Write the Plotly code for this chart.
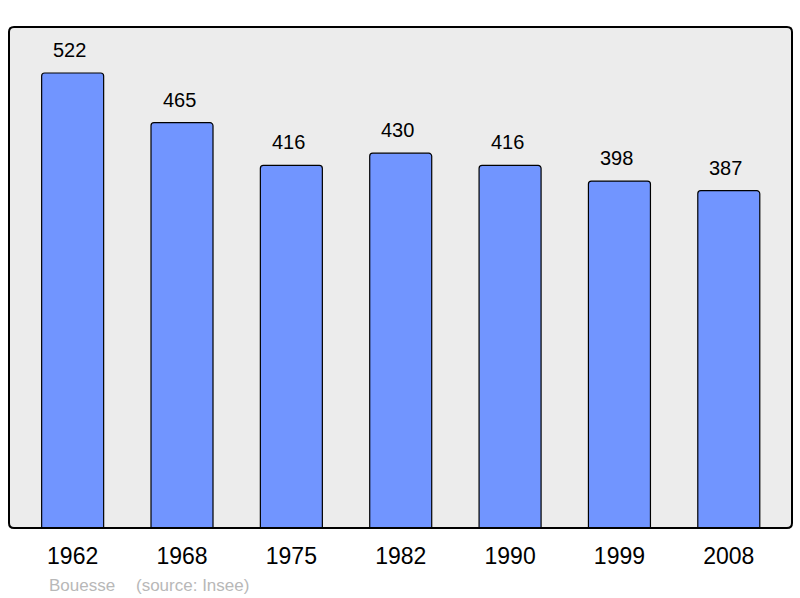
import plotly.graph_objects as go

years = ["1962", "1968", "1975", "1982", "1990", "1999", "2008"]
population = [522, 465, 416, 430, 416, 398, 387]
commune = "Bouesse"
source = "(source: Insee)"

W, H = 800, 598
ML, MR, MT, MB = 9, 8, 27, 70
PW, PH = W - ML - MR, H - MT - MB
FONT = "Liberation Sans, Arial, sans-serif"

fig = go.Figure()
fig.add_trace(go.Bar(
    x=years, y=population, width=0.567,
    marker=dict(color="#7195ff", line=dict(color="#000000", width=1.2), cornerradius=3),
    hoverinfo="x+y",
))

for i, v in enumerate(population):
    fig.add_annotation(x=i, y=v, xref="x", yref="y", text=str(v), showarrow=False,
                       yanchor="middle", yshift=23, xshift=-3,
                       font=dict(family=FONT, size=20, color="#000000"))

def px_x(p):
    return (p - ML) / PW

def px_y(p):
    return (H - MB - p) / PH

fig.add_annotation(xref="paper", yref="paper", x=px_x(47), y=px_y(585), xanchor="left", yanchor="middle",
                   text=commune, showarrow=False,
                   font=dict(family=FONT, size=17, color="#b8b8b8"))
fig.add_annotation(xref="paper", yref="paper", x=px_x(134), y=px_y(585), xanchor="left", yanchor="middle",
                   text=source, showarrow=False,
                   font=dict(family=FONT, size=17, color="#b8b8b8"))

# rounded border around plot area
rx, ry = 5 / PW, 5 / PH
x0, x1, y0, y1 = 0, 1, 0, 1
path = (f"M {x0+rx},{y0} L {x1-rx},{y0} Q {x1},{y0} {x1},{y0+ry} L {x1},{y1-ry} Q {x1},{y1} {x1-rx},{y1} "
        f"L {x0+rx},{y1} Q {x0},{y1} {x0},{y1-ry} L {x0},{y0+ry} Q {x0},{y0} {x0+rx},{y0} Z")
fig.add_shape(type="path", xref="paper", yref="paper", path=path,
              line=dict(color="#000000", width=2), layer="above")

fig.update_layout(
    width=W, height=H,
    margin=dict(l=ML, r=MR, t=MT, b=MB),
    paper_bgcolor="#ffffff",
    plot_bgcolor="#ececec",
    showlegend=False,
    xaxis=dict(type="category", range=[-0.582, 6.578], showgrid=False, zeroline=False,
               ticks="outside", ticklen=7, tickcolor="rgba(0,0,0,0)",
               tickfont=dict(family=FONT, size=23, color="#000000")),
    yaxis=dict(range=[0, 574.8], showgrid=False, zeroline=False, showticklabels=False, ticks=""),
)

fig.write_html("out.html", config={"displayModeBar": False},
               post_script="document.body.style.margin='0';document.body.style.padding='0';")
